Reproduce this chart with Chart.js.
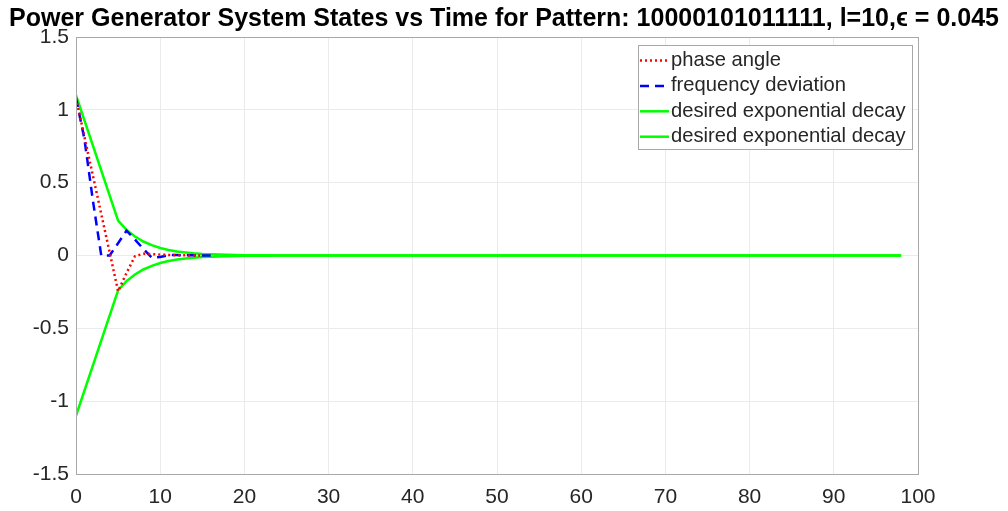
<!DOCTYPE html>
<html>
<head>
<meta charset="utf-8">
<script src="https://cdn.jsdelivr.net/npm/chart.js@4.4.1/dist/chart.umd.min.js"></script>
<style>
  html, body { margin: 0; padding: 0; background: #fff; }
  #wrap { width: 1008px; height: 511px; }
</style>
</head>
<body>
<div id="wrap"><canvas id="c" width="1008" height="511"></canvas></div>
<script>
// values
const phaseT = [0, 5, 6, 7, 8, 9, 10, 11, 12, 13, 14, 15];
const phaseV = [1.08, -0.245, -0.12, -0.005, 0.012, 0.01, 0.006, 0.004, 0.002, 0.001, 0, 0];

const freqT = [0, 1, 2, 3, 4, 6, 7, 8, 9, 10, 11, 12, 13, 14, 15, 16];
const freqV = [1.08, 0.8, 0.38, 0, 0, 0.17, 0.11, 0.045, -0.015, -0.01, 0.003, 0.003, 0.002, 0.001, 0, 0];

const decayT = [0, 5, 6, 7, 8, 9, 10, 11, 12, 13, 14, 15, 16, 18, 20, 22, 25, 30, 40, 50, 60, 70, 80, 90, 98];
const decayUpper = [1.1, 0.239, 0.176, 0.13, 0.096, 0.071, 0.052, 0.038, 0.028, 0.021, 0.015, 0.011, 0.0084, 0.0046, 0.0025, 0.0013, 0.0005, 0.0001, 0, 0, 0, 0, 0, 0, 0];
const decayLower = [-1.1, -0.239, -0.176, -0.13, -0.096, -0.071, -0.052, -0.038, -0.028, -0.021, -0.015, -0.011, -0.0084, -0.0046, -0.0025, -0.0013, -0.0005, -0.0001, 0, 0, 0, 0, 0, 0, 0];

const xTicks = [0, 10, 20, 30, 40, 50, 60, 70, 80, 90, 100];
const xTickLabels = ['0', '10', '20', '30', '40', '50', '60', '70', '80', '90', '100'];
const yTicks = [-1.5, -1, -0.5, 0, 0.5, 1, 1.5];
const yTickLabels = ['-1.5', '-1', '-0.5', '0', '0.5', '1', '1.5'];

const legendNames = ['phase angle', 'frequency deviation', 'desired exponential decay', 'desired exponential decay'];
const titleText = 'Power Generator System States vs Time for Pattern: 10000101011111, l=10,\u03f5 = 0.045';

const TXT = '#262626';
const FONT = 'Arial, "Liberation Sans", sans-serif';

function pts(xs, ys) {
  return xs.map((x, i) => ({ x: x, y: ys[i] }));
}

// title centred on the whole figure, not squeezed
const titlePlugin = {
  id: 'figTitle',
  afterDraw(chart) {
    const ctx = chart.ctx;
    ctx.save();
    ctx.font = 'bold 25px ' + FONT;
    ctx.fillStyle = '#000';
    ctx.textAlign = 'center';
    ctx.textBaseline = 'alphabetic';
    ctx.fillText(titleText, 504, 26);
    ctx.restore();
  }
};

// box round the plot area (matlab style)
const boxPlugin = {
  id: 'box',
  afterDatasetsDraw(chart) {
    const a = chart.chartArea;
    const ctx = chart.ctx;
    ctx.save();
    ctx.strokeStyle = '#a8a8a8';
    ctx.lineWidth = 1;
    ctx.strokeRect(Math.round(a.left) + 0.5, Math.round(a.top) + 0.5,
      Math.round(a.right - a.left), Math.round(a.bottom - a.top));
    ctx.restore();
  }
};

// legend box top right inside the axes
const legendPlugin = {
  id: 'boxLegend',
  afterDraw(chart) {
    const ctx = chart.ctx;
    const x0 = 638, y0 = 45, w = 274, h = 104;
    ctx.save();
    ctx.fillStyle = '#fff';
    ctx.fillRect(x0, y0, w, h);
    ctx.strokeStyle = '#a8a8a8';
    ctx.lineWidth = 1;
    ctx.strokeRect(x0 + 0.5, y0 + 0.5, w, h);
    ctx.font = '20.2px ' + FONT;
    ctx.textBaseline = 'middle';
    chart.data.datasets.forEach((ds, i) => {
      const cy = 60.5 + i * 25.4;
      ctx.strokeStyle = ds.borderColor;
      ctx.lineWidth = ds.borderWidth;
      ctx.setLineDash(ds.borderDash || []);
      ctx.beginPath();
      ctx.moveTo(x0 + 2, cy);
      ctx.lineTo(x0 + 31, cy);
      ctx.stroke();
      ctx.setLineDash([]);
      ctx.fillStyle = TXT;
      ctx.fillText(legendNames[i], x0 + 33, cy);
    });
    ctx.restore();
  }
};

new Chart(document.getElementById('c'), {
  type: 'line',
  data: {
    datasets: [
      {
        label: legendNames[0],
        data: pts(phaseT, phaseV),
        borderColor: '#ff0000',
        borderWidth: 2.5,
        borderDash: [2, 3],
        pointRadius: 0,
        tension: 0,
        order: 1
      },
      {
        label: legendNames[1],
        data: pts(freqT, freqV),
        borderColor: '#0000ff',
        borderWidth: 2.5,
        borderDash: [9, 6],
        pointRadius: 0,
        tension: 0,
        order: 2
      },
      {
        label: legendNames[2],
        data: pts(decayT, decayUpper),
        borderColor: '#00ff00',
        borderWidth: 2.5,
        pointRadius: 0,
        tension: 0,
        order: 3
      },
      {
        label: legendNames[3],
        data: pts(decayT, decayLower),
        borderColor: '#00ff00',
        borderWidth: 2.5,
        pointRadius: 0,
        tension: 0,
        order: 4
      }
    ]
  },
  options: {
    responsive: false,
    animation: false,
    layout: { padding: { left: 0, right: 90, top: 37, bottom: 0 } },
    plugins: {
      legend: { display: false },
      tooltip: { enabled: false },
      title: { display: false }
    },
    scales: {
      x: {
        type: 'linear',
        min: 0,
        max: 100,
        afterBuildTicks: s => { s.ticks = xTicks.map(v => ({ value: v })); },
        afterFit: s => { s.height = 37; },
        grid: { color: '#ebebeb', drawTicks: false },
        border: { display: false },
        ticks: {
          color: TXT,
          font: { family: FONT, size: 21 },
          padding: 11,
          maxRotation: 0,
          callback: (v) => xTickLabels[xTicks.indexOf(v)]
        }
      },
      y: {
        type: 'linear',
        min: -1.5,
        max: 1.5,
        afterBuildTicks: s => { s.ticks = yTicks.map(v => ({ value: v })); },
        afterFit: s => { s.width = 76; },
        grid: { color: '#ebebeb', drawTicks: false },
        border: { display: false },
        ticks: {
          color: TXT,
          font: { family: FONT, size: 21 },
          padding: 7,
          callback: (v) => yTickLabels[yTicks.indexOf(v)]
        }
      }
    }
  },
  plugins: [titlePlugin, boxPlugin, legendPlugin]
});
</script>
</body>
</html>
